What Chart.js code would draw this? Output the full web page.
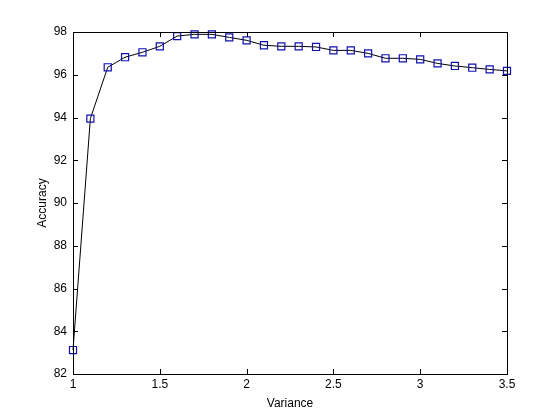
<!DOCTYPE html>
<html>
<head>
<meta charset="utf-8">
<script src="https://cdn.jsdelivr.net/npm/chart.js@4/dist/chart.umd.min.js"></script>
<style>
  html, body { margin: 0; padding: 0; background: #fff; }
  #wrap { width: 560px; height: 420px; }
</style>
</head>
<body>
<div id="wrap"><canvas id="accChart" width="560" height="420"></canvas></div>
<script>
// data
const variance = [1.0, 1.1, 1.2, 1.3, 1.4, 1.5, 1.6, 1.7, 1.8, 1.9, 2.0, 2.1, 2.2,
  2.3, 2.4, 2.5, 2.6, 2.7, 2.8, 2.9, 3.0, 3.1, 3.2, 3.3, 3.4, 3.5];
const accuracy = [83.12, 93.95, 96.35, 96.82, 97.05, 97.33, 97.81, 97.89, 97.89, 97.75,
  97.61, 97.38, 97.33, 97.33, 97.30, 97.14, 97.14, 97.00, 96.77, 96.77, 96.72, 96.53,
  96.41, 96.33, 96.25, 96.18];
const xTicks = [1, 1.5, 2, 2.5, 3, 3.5];
const yTicks = [82, 84, 86, 88, 90, 92, 94, 96, 98];

const font = { family: "'Liberation Sans', Arial, sans-serif", size: 12 };

// MATLAB-like box with inward ticks on all four sides
const boxPlugin = {
  id: "boxPlugin",
  afterDatasetsDraw(chart) {
    const { ctx, chartArea: a, scales } = chart;
    const len = 5;
    ctx.save();
    ctx.strokeStyle = "#000";
    ctx.lineWidth = 1;
    ctx.beginPath();
    xTicks.forEach((v) => {
      const px = Math.round(scales.x.getPixelForValue(v)) + 0.5;
      ctx.moveTo(px, a.bottom); ctx.lineTo(px, a.bottom - len);
      ctx.moveTo(px, a.top); ctx.lineTo(px, a.top + len);
    });
    yTicks.forEach((v) => {
      const py = Math.round(scales.y.getPixelForValue(v)) + 0.5;
      ctx.moveTo(a.left, py); ctx.lineTo(a.left + len, py);
      ctx.moveTo(a.right, py); ctx.lineTo(a.right - len, py);
    });
    ctx.stroke();
    ctx.strokeRect(Math.round(a.left) + 0.5, Math.round(a.top) + 0.5,
      Math.round(a.right - a.left), Math.round(a.bottom - a.top));
    ctx.restore();
  },
};

new Chart(document.getElementById("accChart").getContext("2d"), {
  type: "scatter",
  data: {
    datasets: [
      {
        data: variance.map((v, i) => ({ x: v, y: accuracy[i] })),
        showLine: true,
        borderColor: "#000",
        borderWidth: 1,
        tension: 0,
        pointStyle: "rect",
        pointRadius: 5,
        pointBorderWidth: 1.2,
        pointBorderColor: "#1010b0",
        pointBackgroundColor: "rgba(0,0,0,0)",
      },
    ],
  },
  options: {
    responsive: false,
    animation: false,
    clip: false,
    layout: { padding: { left: 0, top: 32, right: 53, bottom: 0 } },
    plugins: { legend: { display: false }, tooltip: { enabled: false } },
    scales: {
      x: {
        type: "linear",
        min: 1,
        max: 3.5,
        afterFit: (s) => { s.height = 46; },
        afterBuildTicks: (s) => { s.ticks = xTicks.map((v) => ({ value: v })); },
        grid: { display: false, drawTicks: false },
        border: { display: false },
        ticks: { color: "#000", font, padding: 3, maxRotation: 0, callback: (v) => String(v) },
        title: { display: true, text: "Variance", color: "#000", font, padding: { top: 0, bottom: 9 } },
      },
      y: {
        type: "linear",
        min: 82,
        max: 98,
        afterFit: (s) => { s.width = 73; },
        afterBuildTicks: (s) => { s.ticks = yTicks.map((v) => ({ value: v })); },
        grid: { display: false, drawTicks: false },
        border: { display: false },
        ticks: { color: "#000", font, padding: 6, callback: (v) => String(v) },
        title: { display: true, text: "Accuracy", color: "#000", font, padding: { top: 35, bottom: 0 } },
      },
    },
  },
  plugins: [boxPlugin],
});
</script>
</body>
</html>
